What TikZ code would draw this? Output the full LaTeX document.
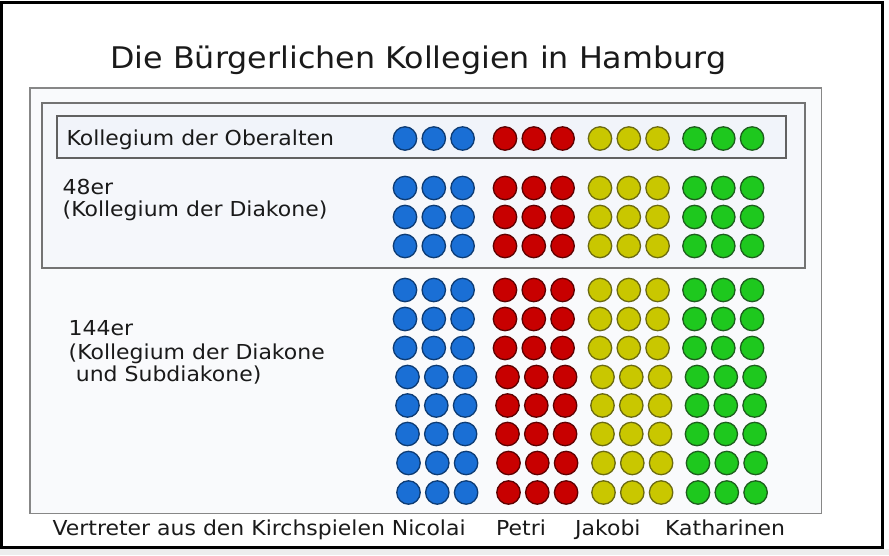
\documentclass[tikz,border=0pt]{standalone}
\usepackage{fontspec}
\setmainfont{DejaVu Sans}[FakeStretch=1.066]
\definecolor{bfill}{HTML}{1A6FD5}
\definecolor{bline}{HTML}{0D3B73}
\definecolor{rfill}{HTML}{C80000}
\definecolor{rline}{HTML}{5C0000}
\definecolor{yfill}{HTML}{C9C700}
\definecolor{yline}{HTML}{6B6A10}
\definecolor{gfill}{HTML}{1EC81E}
\definecolor{gline}{HTML}{1D5E1D}
\definecolor{txt}{HTML}{1A1A1A}
\definecolor{panelfill}{HTML}{F9FAFC}
\definecolor{boxfill}{HTML}{F5F7FB}
\definecolor{obfill}{HTML}{F1F4FA}
\tikzset{
  dot/.style={circle, minimum size=23.4pt, inner sep=0pt, line width=1.3pt},
  lbl/.style={anchor=base west, inner sep=0pt, text=txt, font=\fontsize{20.6}{22.6}\selectfont},
  ttl/.style={anchor=base west, inner sep=0pt, text=txt, font=\fontsize{29.8}{32}\selectfont},
  frame/.style={draw=black, line width=3pt},
  panel/.style={draw=black!47, line width=1.5pt, fill=panelfill},
  midbox/.style={draw=black!55, line width=1.8pt, fill=boxfill},
  obbox/.style={draw=black!62, line width=2pt, fill=obfill}
}
\begin{document}
\begin{tikzpicture}[x=1pt, y=-1pt]
\useasboundingbox (0,0) rectangle (889,555);
\fill[white] (0,0) rectangle (889,555);
\fill[black!7] (0,548.5) rectangle (889,555);
\draw[frame] (1.5,2.5) rectangle (882.5,547);
\draw[panel] (30,88) rectangle (821.5,513.5);
\draw[midbox] (42,103) rectangle (805,268);
\draw[obbox] (57,116) rectangle (786,158);

\node[ttl] (title) at (110,68.3) {Die Bürgerlichen Kollegien in Hamburg};
\node[lbl] (ober) at (66.3,145) {Kollegium der Oberalten};
\node[lbl] (a1) at (62.5,194) {48er};
\node[lbl] (a2) at (62.5,216.6) {(Kollegium der Diakone)};
\node[lbl] (c1) at (68.5,335.7) {144er};
\node[lbl] (c2) at (68.5,359) {(Kollegium der Diakone};
\node[lbl] (c3) at (75.7,381.5) {und Subdiakone)};
\node[lbl] (v) at (52.4,535) {Vertreter aus den Kirchspielen Nicolai};
\node[lbl] (petri) at (496,535) {Petri};
\node[lbl] (jakobi) at (575,535) {Jakobi};
\node[lbl] (kath) at (665,535) {Katharinen};

\foreach \gi/\gx/\fc/\dc in {0/405/bfill/bline, 1/505/rfill/rline, 2/600/yfill/yline, 3/694.5/gfill/gline}
  \foreach \ri/\ry/\sh in {o/138.5/0, a1/188/0, a2/217/0, a3/246/0, c1/290/0, c2/319/0, c3/348/0, c4/377/2.5, c5/405.5/2.5, c6/434/2.5, c7/463/3.5, c8/492.5/3.5}
    \foreach \ci in {0,1,2}
      \node[dot, fill=\fc, draw=\dc] (d-\gi-\ri-\ci) at ({\gx+\ci*28.8+\sh},\ry) {};
\end{tikzpicture}
\end{document}
